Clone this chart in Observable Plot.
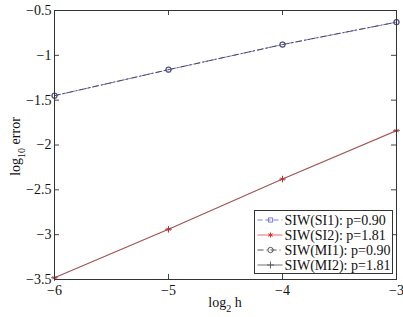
<!DOCTYPE html>
<html><head><meta charset="utf-8">
<script src="https://cdn.jsdelivr.net/npm/d3@7"></script>
<script src="https://cdn.jsdelivr.net/npm/@observablehq/plot@0.6"></script>
<style>body{margin:0;background:#fff;} svg{display:block;}</style>
</head><body><div id="chart"></div>
<script>
const logH = [-6, -5, -4, -3];
const si1 = [-1.45, -1.16, -0.88, -0.63];
const mi1 = [-1.45, -1.16, -0.88, -0.63];
const si2 = [-3.48, -2.94, -2.38, -1.84];
const mi2 = [-3.48, -2.94, -2.38, -1.84];
const xTicks = [-6, -5, -4, -3];
const yTicks = [-3.5, -3, -2.5, -2, -1.5, -1, -0.5];
const legendLabels = ["SIW(SI1): p=0.90", "SIW(SI2): p=1.81", "SIW(MI1): p=0.90", "SIW(MI2): p=1.81"];

const W = 403, H = 317, mL = 54, mR = 7, mT = 10, mB = 38;
const pw = W - mL - mR, ph = H - mT - mB;
const fmt = d => String(d).replace("-", "\u2212");
const rows = ys => logH.map((x, i) => ({x, y: ys[i]}));

const styles = [
  {stroke: "#7b7bf0", dash: "5,3", sym: "square", mstroke: "#6a6ad8", w: 1},
  {stroke: "#f08080", dash: null, sym: "asterisk", mstroke: "#e02020", w: 1.2},
  {stroke: "#444", dash: "6,3,1,3", sym: "circle", mstroke: "#444", w: 0.9},
  {stroke: "#333", dash: null, sym: "plus", mstroke: "#555", w: 0.7}
];
const series = [si1, si2, mi1, mi2];

const marks = [
  Plot.axisX(xTicks, {tickSize: 0, tickPadding: 5.5, tickFormat: fmt, label: null, fontSize: 14}),
  Plot.axisY(yTicks, {tickSize: 0, tickPadding: 3, tickFormat: fmt, label: null, fontSize: 14}),
  Plot.ruleY(yTicks, {y: d => d, insetRight: pw - 5, stroke: "#444"}),
  Plot.ruleY(yTicks, {y: d => d, insetLeft: pw - 5, stroke: "#444"}),
  Plot.ruleX(xTicks, {x: d => d, insetTop: ph - 5, stroke: "#444"}),
  Plot.ruleX(xTicks, {x: d => d, insetBottom: ph - 5, stroke: "#444"}),
];
series.forEach((s, i) => {
  const st = styles[i];
  marks.push(Plot.line(rows(s), {x: "x", y: "y", stroke: st.stroke, strokeWidth: st.w, strokeDasharray: st.dash, strokeOpacity: i === 3 ? 0.7 : 1}));
});
[3, 0, 2, 1].forEach(i => {
  const st = styles[i];
  marks.push(Plot.dot(rows(series[i]), {x: "x", y: "y", symbol: st.sym, r: st.sym === "circle" ? 2.8 : 2.3, stroke: st.mstroke, fill: "none", strokeWidth: 0.9}));
});
marks.push(Plot.frame({stroke: "#333"}));

const svg = Plot.plot({
  width: W, height: H, marginLeft: mL, marginRight: mR, marginTop: mT, marginBottom: mB,
  x: {domain: [-6, -3]}, y: {domain: [-3.5, -0.5]},
  style: {fontFamily: "'Liberation Serif', 'Times New Roman', serif", fontSize: "14px", background: "white", color: "#111"},
  marks
});
document.getElementById("chart").appendChild(svg);

const s = d3.select(svg);
// axis labels with subscripts
const xl = s.append("text").attr("x", mL + pw / 2).attr("y", 307).attr("text-anchor", "middle")
  .attr("font-size", 14).attr("fill", "#111");
xl.append("tspan").text("log");
xl.append("tspan").attr("font-size", 10).attr("dy", 5).text("2");
xl.append("tspan").attr("dy", -5).text(" h");

const yl = s.append("text").attr("transform", `translate(20,${mT + ph / 2 + 2}) rotate(-90)`).attr("text-anchor", "middle")
  .attr("font-size", 14).attr("fill", "#111");
yl.append("tspan").text("log");
yl.append("tspan").attr("font-size", 10).attr("dy", 5).text("10");
yl.append("tspan").attr("dy", -5).text(" error");

// legend
const lg = s.append("g").attr("transform", "translate(254.5,210.5)");
lg.append("rect").attr("width", 138).attr("height", 63).attr("fill", "white").attr("stroke", "#333");
const symMap = {square: d3.symbolSquare, asterisk: d3.symbolAsterisk, circle: d3.symbolCircle, plus: d3.symbolPlus};
legendLabels.forEach((lab, i) => {
  const st = styles[i];
  const y = 9.5 + i * 15;
  lg.append("line").attr("x1", 3).attr("x2", 28).attr("y1", y).attr("y2", y)
    .attr("stroke", st.stroke).attr("stroke-width", st.w).attr("stroke-dasharray", st.dash);
  lg.append("path").attr("transform", `translate(16,${y})`)
    .attr("d", d3.symbol(symMap[st.sym], st.sym === "circle" ? 22 : 18)())
    .attr("fill", "none").attr("stroke", st.mstroke).attr("stroke-width", 0.9);
  lg.append("text").attr("x", 30).attr("y", y).attr("dy", "0.35em").attr("text-anchor", "start")
    .attr("font-size", 14).attr("fill", "#111").text(lab);
});
</script></body></html>
